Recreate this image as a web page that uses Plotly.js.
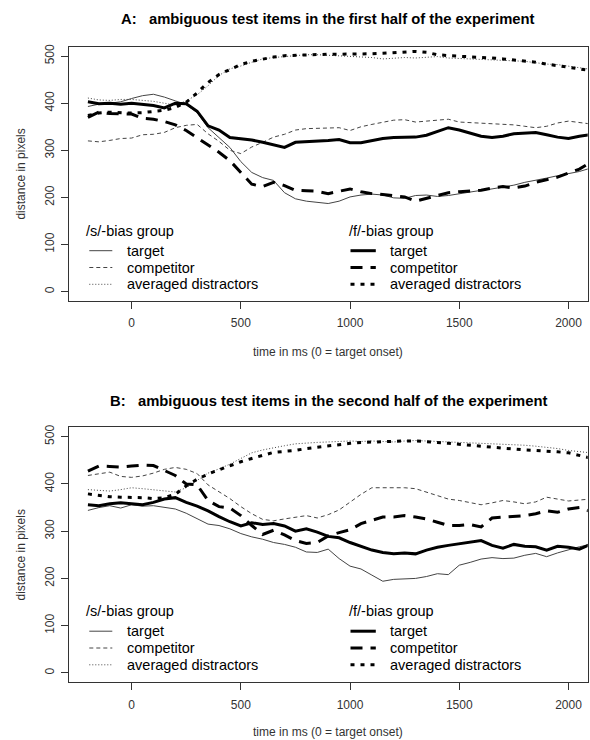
<!DOCTYPE html>
<html><head><meta charset="utf-8">
<script src="https://cdn.plot.ly/plotly-3.0.1.min.js"></script>
<style>html,body{margin:0;padding:0;background:#fff}#chart{width:590px;height:740px}</style>
</head><body><div id="chart"></div>
<script>
// ---------- data ----------
const timeMs = [-200,-150,-100,-50,0,50,100,150,200,250,300,350,400,450,500,550,600,650,700,750,800,850,900,950,1000,1050,1100,1150,1200,1250,1300,1350,1400,1450,1500,1550,1600,1650,1700,1750,1800,1850,1900,1950,2000,2050,2100];
const xTickVals = [0,500,1000,1500,2000];
const yTickVals = [0,100,200,300,400,500];
const panelTitles = ["A:\u00a0\u00a0 ambiguous test items in the first half of the experiment",
                     "B:\u00a0\u00a0 ambiguous test items in the second half of the experiment"];
const xAxisTitle = "time in ms (0 = target onset)";
const yAxisTitle = "distance in pixels";
const legendGroups = ["/s/-bias group", "/f/-bias group"];
const legendItems = ["target", "competitor", "averaged distractors"];

// Panel A: first half
const aSTarget      = [393,398,400,403,410,416,419,413,405,397,380,348,327,306,276,253,242,236,210,197,192,189,187,192,201,205,207,205,199,198,204,205,202,204,208,211,215,218,222,226,232,236,241,246,250,255,262];
const aSCompetitor  = [320,318,321,325,326,333,334,338,348,353,355,335,319,300,293,307,317,328,334,343,346,347,348,348,342,350,355,360,364,365,360,362,364,366,360,359,358,357,356,354,351,348,351,358,362,359,356];
const aSDistractors = [411,407,406,408,408,406,404,400,396,405,418,437,459,473,479,487,494,497,499,502,503,503,502,501,499,498,497,494,495,497,496,497,499,496,495,494,494,493,492,491,489,486,483,482,479,476,472];
const aFTarget      = [403,399,400,398,400,398,395,390,400,399,383,352,343,327,325,322,317,312,306,317,318,319,321,323,316,316,320,325,327,327,328,332,340,348,343,337,330,327,330,335,337,338,333,328,325,330,333];
const aFCompetitor  = [370,381,378,378,377,368,366,361,354,342,327,312,296,278,252,228,223,232,225,215,214,213,208,213,218,212,208,206,204,201,192,198,204,210,212,213,215,220,223,220,224,232,237,243,252,260,274];
const aFDistractors = [374,379,381,380,379,380,383,385,391,402,422,444,461,472,482,489,494,498,501,502,503,504,504,504,504,504,505,506,507,508,510,508,503,501,500,499,498,496,494,492,490,487,483,480,477,473,469];

// Panel B: second half
const bSTarget      = [344,350,354,349,356,353,354,350,347,338,326,315,312,305,295,288,283,276,272,266,256,255,262,242,226,220,207,194,198,199,200,204,210,208,228,234,241,244,242,243,249,253,246,254,261,267,272];
const bSCompetitor  = [418,422,425,416,414,417,423,431,435,431,422,398,383,369,352,337,325,322,326,330,333,328,335,345,362,378,392,392,391,392,390,383,376,368,365,360,356,360,365,362,358,362,372,368,364,366,368];
const bSDistractors = [388,386,385,388,392,390,388,386,383,392,408,423,432,442,454,466,472,477,481,485,487,488,489,490,491,490,491,490,489,491,492,491,490,489,488,488,487,486,485,484,482,480,478,475,471,468,466];
const bFTarget      = [356,354,358,360,358,356,361,368,371,361,353,343,331,320,311,318,314,316,311,300,305,298,289,286,276,268,260,255,252,254,252,260,266,270,273,276,280,270,264,272,268,267,260,268,266,262,272];
const bFCompetitor  = [427,438,437,436,438,440,439,428,418,400,398,365,352,349,333,312,293,302,292,280,274,276,290,297,303,316,323,330,330,333,330,326,319,312,312,314,309,328,330,331,333,337,343,340,347,350,342];
const bFDistractors = [379,376,373,372,372,371,369,371,378,396,410,421,430,439,447,454,461,467,469,471,475,478,480,483,486,488,489,490,490,491,491,490,488,486,484,481,479,477,476,474,472,471,470,468,466,461,455];

// ---------- styles ----------
const FONT = "Liberation Sans, Arial, sans-serif";
const thin = {color:'#444', width:1};
const thick = {color:'#000', width:3};
const styles = [
  Object.assign({dash:'solid'}, thin),
  Object.assign({dash:'4px,3px'}, thin),
  Object.assign({dash:'1px,2px'}, thin),
  Object.assign({dash:'solid'}, thick),
  Object.assign({dash:'12px,8px'}, thick),
  Object.assign({dash:'4px,6px'}, thick)
];
const panels = [
  {xa:'x',  ya:'y',  series:[aSTarget,aSCompetitor,aSDistractors,aFTarget,aFCompetitor,aFDistractors]},
  {xa:'x2', ya:'y2', series:[bSTarget,bSCompetitor,bSDistractors,bFTarget,bFCompetitor,bFDistractors]}
];
const traces = [];
panels.forEach(p => {
  p.series.forEach((ys, i) => {
    traces.push({type:'scatter', mode:'lines', x:timeMs, y:ys, xaxis:p.xa, yaxis:p.ya,
      line:Object.assign({shape:'linear'}, styles[i]), hoverinfo:'skip'});
  });
});

const W = 590, H = 740;
const px = v => v / W;
const py = v => 1 - v / H;

const axisCommon = {showline:true, mirror:true, linecolor:'#333', linewidth:1,
  ticks:'outside', ticklen:7, tickwidth:1, tickcolor:'#333', showgrid:false, zeroline:false,
  tickfont:{family:FONT, size:12, color:'#333'}, fixedrange:true};
const xDom = [px(68.7), px(587.7)];
const layout = {
  width:W, height:H, margin:{l:0,r:0,t:0,b:0}, paper_bgcolor:'#fff', plot_bgcolor:'#fff',
  showlegend:false,
  xaxis: Object.assign({}, axisCommon, {domain:xDom, range:[-288,2088], tickvals:xTickVals, anchor:'y', ticklabelstandoff:4}),
  yaxis: Object.assign({}, axisCommon, {domain:[py(301), py(46.7)], range:[-20,520], tickvals:yTickVals, tickangle:-90, anchor:'x', ticklabelstandoff:2}),
  xaxis2: Object.assign({}, axisCommon, {domain:xDom, range:[-288,2088], tickvals:xTickVals, anchor:'y2', ticklabelstandoff:4}),
  yaxis2: Object.assign({}, axisCommon, {domain:[py(682.3), py(427.3)], range:[-20,520], tickvals:yTickVals, tickangle:-90, anchor:'x2', ticklabelstandoff:2}),
  annotations: [], shapes: []
};

const cx = (68.7 + 587.7) / 2;
const panelOffsets = [0, 380.5];
panelOffsets.forEach((off, k) => {
  layout.annotations.push({xref:'paper', yref:'paper', x:px(cx), y:py(off===0?19:401), xanchor:'center', yanchor:'middle',
    text:'<b>'+panelTitles[k]+'</b>', showarrow:false, font:{family:FONT, size:14.8, color:'#000'}});
  layout.annotations.push({xref:'paper', yref:'paper', x:px(cx), y:py(off===0?351.7:731.7), xanchor:'center', yanchor:'middle',
    text:xAxisTitle, showarrow:false, font:{family:FONT, size:12, color:'#333'}});
  layout.annotations.push({xref:'paper', yref:'paper', x:px(20.7), y:py(off===0?173.9:554.8), xanchor:'center', yanchor:'middle',
    text:yAxisTitle, textangle:-90, showarrow:false, font:{family:FONT, size:12, color:'#333'}});
  // legends
  const headerX = [83.7, 346.8], sampleX = [[89.3,112.3],[350.5,375.8]], textX = [125.1, 387.5];
  const rowY = [250.7, 267.5, 284.3];
  for (let g = 0; g < 2; g++) {
    layout.annotations.push({xref:'paper', yref:'paper', x:px(headerX[g]), y:py(230.7+off), xanchor:'left', yanchor:'middle',
      text:legendGroups[g], showarrow:false, font:{family:FONT, size:14.5, color:'#000'}});
    for (let r = 0; r < 3; r++) {
      const st = styles[g*3 + r];
      layout.annotations.push({xref:'paper', yref:'paper', x:px(textX[g]), y:py(rowY[r]+off), xanchor:'left', yanchor:'middle',
        text:legendItems[r], showarrow:false, font:{family:FONT, size:14.5, color:'#000'}});
      layout.shapes.push({type:'line', xref:'paper', yref:'paper', x0:px(sampleX[g][0]), x1:px(sampleX[g][1]),
        y0:py(rowY[r]+off), y1:py(rowY[r]+off), line:{color:st.color, width:st.width, dash:st.dash}});
    }
  }
});

Plotly.newPlot('chart', traces, layout, {staticPlot:true, displayModeBar:false});
</script>
</body></html>
